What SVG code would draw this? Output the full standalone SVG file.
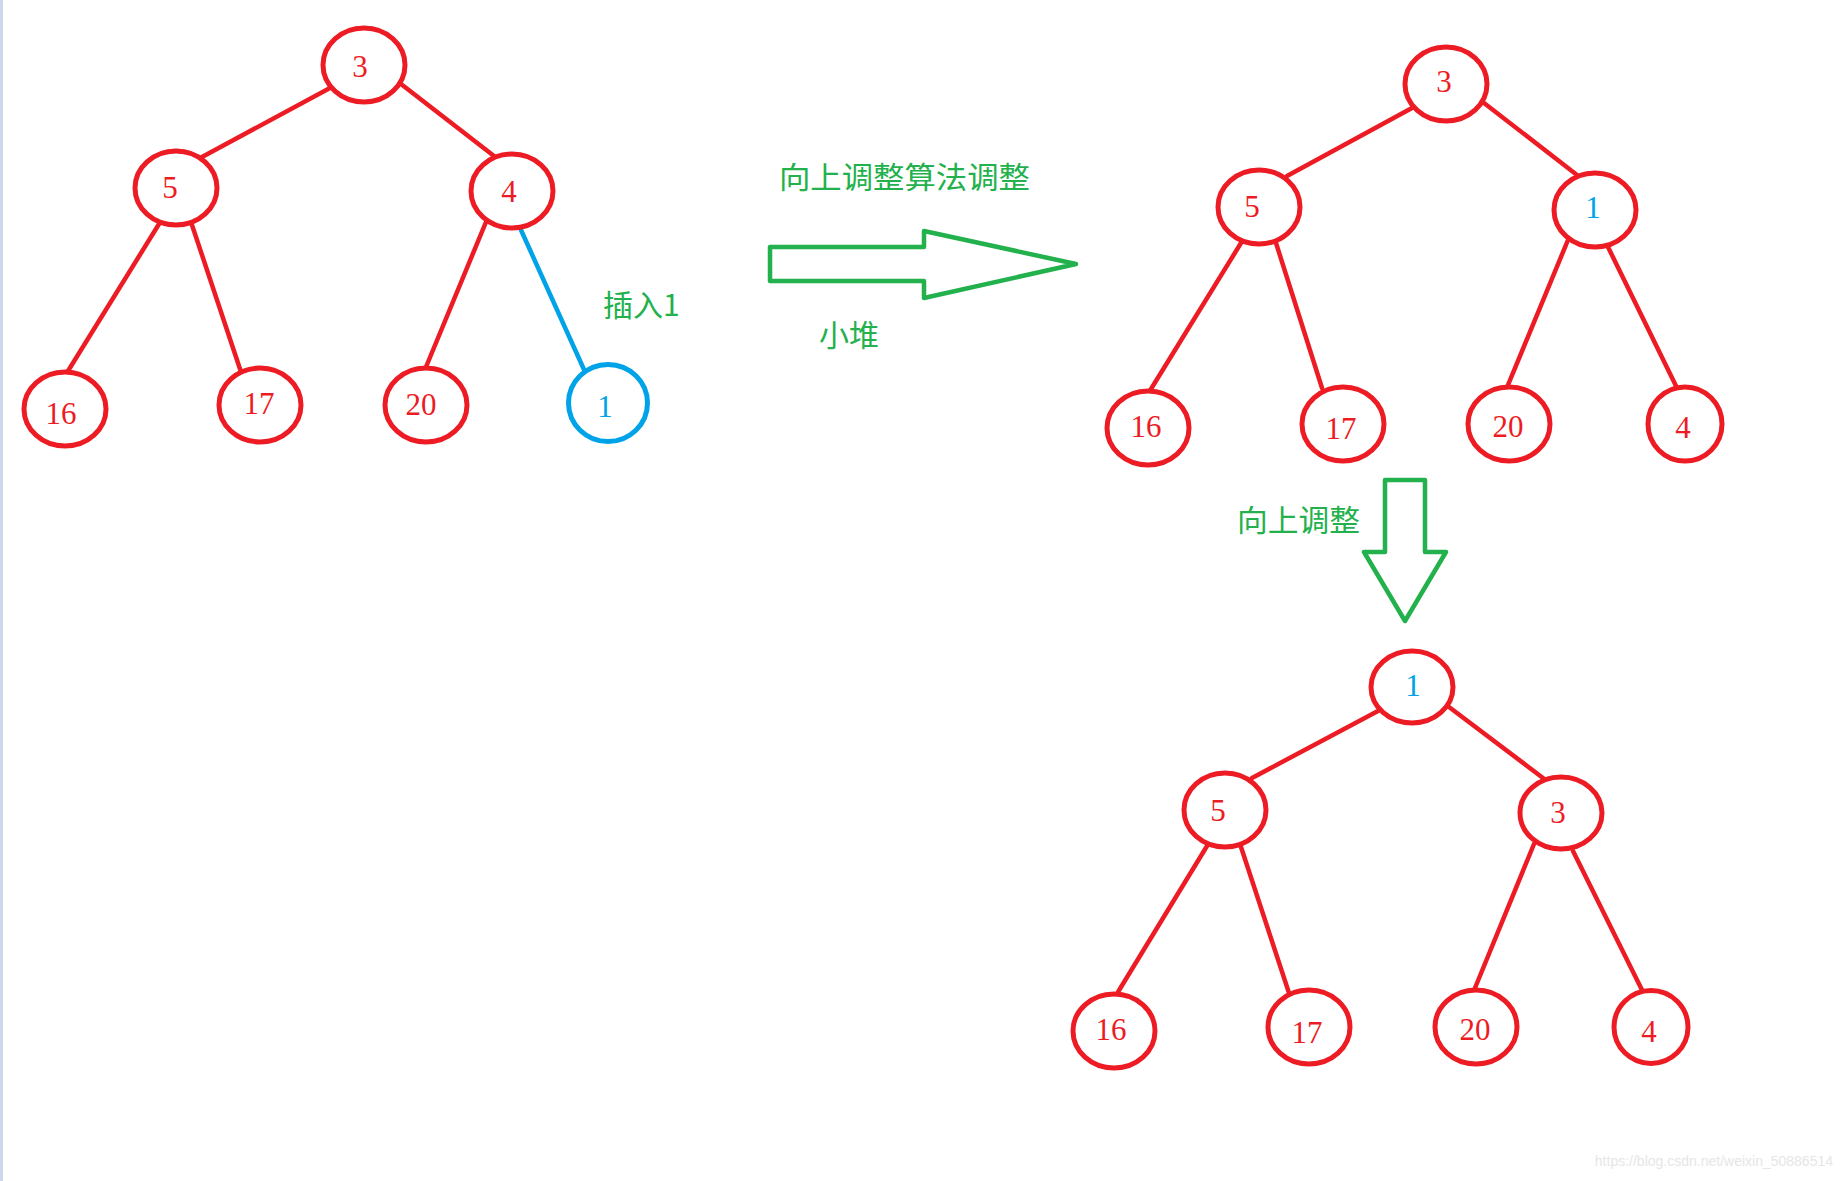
<svg xmlns="http://www.w3.org/2000/svg" width="1843" height="1181" viewBox="0 0 1843 1181">
<style>
.n{fill:#ffffff;stroke:#ED1C24;stroke-width:5}
.nb{fill:#ffffff;stroke:#00A2E8;stroke-width:5}
.t{font-family:"Liberation Serif","DejaVu Serif",serif;font-size:31px;fill:#ED1C24;text-anchor:middle}
.tb{font-family:"Liberation Serif","DejaVu Serif",serif;font-size:31px;fill:#00A2E8;text-anchor:middle}
.e{stroke:#ED1C24;stroke-width:4.5;stroke-linecap:round;fill:none}
.eb{stroke:#00A2E8;stroke-width:4.5;stroke-linecap:round;fill:none}
.g{font-family:"Noto Sans CJK SC","Noto Sans",sans-serif;font-size:30px;fill:#22B14C}
.ar{fill:none;stroke:#22B14C;stroke-width:4.5;stroke-linejoin:round}
</style>
<rect x="0" y="0" width="1843" height="1181" fill="#ffffff"/>
<rect x="0" y="0" width="3" height="1181" fill="#cdd7ea"/>
<g id="connectors">
<line class="e" x1="330" y1="88" x2="202" y2="157"/>
<line class="e" x1="401" y1="84" x2="494" y2="156"/>
<line class="e" x1="159" y1="224" x2="68" y2="371"/>
<line class="e" x1="192" y1="225" x2="241" y2="372"/>
<line class="e" x1="486" y1="222" x2="426" y2="367"/>
<line class="eb" x1="521" y1="230" x2="586" y2="374"/>
<line class="e" x1="1412" y1="108" x2="1287" y2="176"/>
<line class="e" x1="1484" y1="103" x2="1577" y2="175"/>
<line class="e" x1="1241" y1="243" x2="1151" y2="389"/>
<line class="e" x1="1276" y1="243" x2="1322" y2="388"/>
<line class="e" x1="1568" y1="240" x2="1508" y2="385"/>
<line class="e" x1="1608" y1="247" x2="1677" y2="388"/>
<line class="e" x1="1378" y1="711" x2="1252" y2="778"/>
<line class="e" x1="1449" y1="707" x2="1543" y2="778"/>
<line class="e" x1="1207" y1="846" x2="1118" y2="992"/>
<line class="e" x1="1241" y1="847" x2="1289" y2="993"/>
<line class="e" x1="1534" y1="844" x2="1475" y2="988"/>
<line class="e" x1="1573" y1="851" x2="1643" y2="992"/>
</g>
<g id="t1-3"><ellipse class="n" cx="364" cy="65" rx="41" ry="37"/><text class="t" x="360" y="77">3</text></g>
<g id="t1-5"><ellipse class="n" cx="176" cy="188" rx="41" ry="37"/><text class="t" x="170" y="198">5</text></g>
<g id="t1-4"><ellipse class="n" cx="512" cy="191" rx="41" ry="37"/><text class="t" x="509" y="202">4</text></g>
<g id="t1-16"><ellipse class="n" cx="65" cy="409" rx="41" ry="37"/><text class="t" x="61" y="424">16</text></g>
<g id="t1-17"><ellipse class="n" cx="260" cy="405" rx="41" ry="37"/><text class="t" x="259" y="414">17</text></g>
<g id="t1-20"><ellipse class="n" cx="426" cy="405" rx="41" ry="37"/><text class="t" x="421" y="415">20</text></g>
<g id="t1-1"><ellipse class="nb" cx="608" cy="403" rx="39.5" ry="38.5"/><text class="tb" x="605" y="417">1</text></g>
<g id="label-insert"><text class="g" x="603" y="316">插入1</text></g>
<g id="arrow-right"><polygon class="ar" points="770,247 924,247 924,231 1076,264 924,298 924,281 770,281"/></g>
<g id="label-top"><text class="g" x="779" y="188" font-size="31" textLength="251" lengthAdjust="spacingAndGlyphs">向上调整算法调整</text></g>
<g id="label-small"><text class="g" x="819" y="346">小堆</text></g>
<g id="t2-3"><ellipse class="n" cx="1446" cy="84" rx="41" ry="37"/><text class="t" x="1444" y="92">3</text></g>
<g id="t2-5"><ellipse class="n" cx="1259" cy="207" rx="41" ry="37"/><text class="t" x="1252" y="217">5</text></g>
<g id="t2-1"><ellipse class="n" cx="1595" cy="210" rx="41" ry="37"/><text class="tb" x="1593" y="218">1</text></g>
<g id="t2-16"><ellipse class="n" cx="1148" cy="428" rx="41" ry="37"/><text class="t" x="1146" y="437">16</text></g>
<g id="t2-17"><ellipse class="n" cx="1343" cy="424" rx="41" ry="37"/><text class="t" x="1341" y="439">17</text></g>
<g id="t2-20"><ellipse class="n" cx="1509" cy="424" rx="41" ry="37"/><text class="t" x="1508" y="437">20</text></g>
<g id="t2-4"><ellipse class="n" cx="1685" cy="424" rx="37" ry="37"/><text class="t" x="1683" y="438">4</text></g>
<g id="arrow-down"><polygon class="ar" points="1385,480 1425,480 1425,552 1446,552 1405,621 1364,552 1385,552"/></g>
<g id="label-up"><text class="g" x="1237" y="531" font-size="31" textLength="123" lengthAdjust="spacingAndGlyphs">向上调整</text></g>
<g id="t3-1"><ellipse class="n" cx="1412" cy="687" rx="41" ry="36"/><text class="tb" x="1413" y="696">1</text></g>
<g id="t3-5"><ellipse class="n" cx="1225" cy="810" rx="41" ry="37"/><text class="t" x="1218" y="821">5</text></g>
<g id="t3-3"><ellipse class="n" cx="1561" cy="813" rx="41" ry="36"/><text class="t" x="1558" y="823">3</text></g>
<g id="t3-16"><ellipse class="n" cx="1114" cy="1031" rx="41" ry="37"/><text class="t" x="1111" y="1040">16</text></g>
<g id="t3-17"><ellipse class="n" cx="1309" cy="1027" rx="41" ry="37"/><text class="t" x="1307" y="1043">17</text></g>
<g id="t3-20"><ellipse class="n" cx="1476" cy="1027" rx="41" ry="37"/><text class="t" x="1475" y="1040">20</text></g>
<g id="t3-4"><ellipse class="n" cx="1651" cy="1027" rx="37" ry="36.5"/><text class="t" x="1649" y="1042">4</text></g>
<text x="1833" y="1166" font-family="Liberation Sans, Arial, sans-serif" font-size="14" fill="#e6e6e6" text-anchor="end">https://blog.csdn.net/weixin_50886514</text>
</svg>
